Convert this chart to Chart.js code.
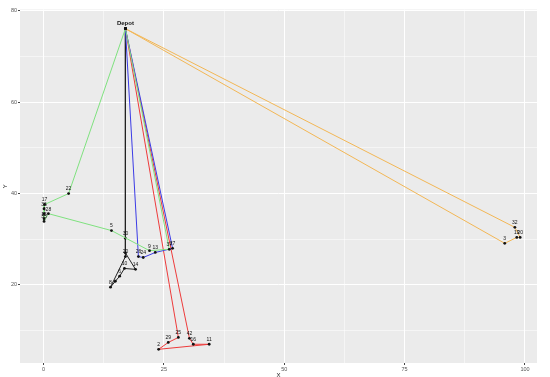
<!DOCTYPE html>
<html>
<head>
<meta charset="utf-8">
<script src="https://cdn.jsdelivr.net/npm/chart.js@4"></script>
<style>
html,body{margin:0;padding:0;background:#fff}
#wrap{width:550px;height:377px}
</style>
</head>
<body>
<div id="wrap"><canvas id="routeChart" width="550" height="377"></canvas></div>
<script>
// depot
let depotX = [17]
let depotY = [76.1]

// routes (each starts and ends at the depot)
let greenX = [17, 5.2, 0.2, 0.1, 0.1, 0.1, 0.1, 1.0, 14.1, 22.0, 26.1, 17]
let greenY = [76.1, 40.0, 37.6, 36.7, 35.6, 34.5, 33.9, 35.6, 31.9, 27.5, 27.8, 76.1]
let greenLabels = ["", "22", "17", "36", "4", "15", "35", "28", "5", "9", "37", ""]

let blueX = [17, 19.7, 20.7, 23.2, 26.8, 17]
let blueY = [76.1, 26.2, 26.0, 27.1, 28.0, 76.1]
let blueLabels = ["", "26", "24", "13", "27", ""]

let blackX = [17, 17.0, 17.0, 19.1, 16.8, 15.8, 14.9, 13.9, 17.0, 17]
let blackY = [76.1, 30.2, 27.0, 23.4, 23.6, 21.9, 20.8, 19.5, 26.2, 76.1]
let blackLabels = ["", "30", "", "14", "10", "6", "", "8", "20", ""]

let redX = [17, 30.3, 31.1, 34.4, 23.9, 25.9, 28.0, 17]
let redY = [76.1, 8.3, 7.0, 7.0, 5.9, 7.4, 8.5, 76.1]
let redLabels = ["", "42", "16", "11", "2", "29", "25", ""]

let orangeX = [17, 97.9, 99.0, 98.3, 95.8, 17]
let orangeY = [76.1, 32.6, 30.4, 30.4, 29.1, 76.1]
let orangeLabels = ["", "32", "20", "19", "3", ""]

// axes
let xTicks = [0, 25, 50, 75, 100]
let xMinorTicks = [12.5, 37.5, 62.5, 87.5]
let yTicks = [20, 40, 60, 80]
let yMinorTicks = [10, 30, 50, 70]


function toPoints(xs, ys){
return xs.map((x,i)=>({x:x, y:ys[i]}))
}

function route(xs, ys, labels, color){
return {
data: toPoints(xs, ys),
labels: labels,
showLine: true,
borderColor: color,
borderWidth: 1,
pointRadius: 1.4,
pointBackgroundColor: "#111",
pointBorderColor: "#111",
pointBorderWidth: 0
}
}

function withMinor(scale, major, minor){
let all = major.concat(minor).sort((a,b)=>a-b)
scale.ticks = all.map(v=>({value:v}))
}

const panelBg = {
id: "panelBg",
beforeDraw(chart){
let a = chart.chartArea
let ctx = chart.ctx
ctx.save()
ctx.fillStyle = "#EBEBEB"
ctx.fillRect(a.left, a.top, a.right-a.left, a.bottom-a.top)
ctx.restore()
}
}

const pointLabels = {
id: "pointLabels",
afterDatasetsDraw(chart){
let ctx = chart.ctx
ctx.save()
ctx.textAlign = "center"
ctx.textBaseline = "bottom"
ctx.fillStyle = "#111"
ctx.font = "5px 'Liberation Sans', Arial, sans-serif"
chart.data.datasets.forEach((ds,i)=>{
let meta = chart.getDatasetMeta(i)
meta.data.forEach((pt,j)=>{
let t = ds.labels[j]
if(t) ctx.fillText(t, pt.x, pt.y - 2)
})
})
let sx = chart.scales.x, sy = chart.scales.y
ctx.font = "bold 6px 'Liberation Sans', Arial, sans-serif"
ctx.fillText("Depot", sx.getPixelForValue(depotX[0]), sy.getPixelForValue(depotY[0]) - 2)
ctx.restore()
}
}

function isMajor(v, major){
return major.indexOf(v) >= 0
}

new Chart(document.getElementById("routeChart"), {
type: "scatter",
data: {
datasets: [
route(greenX, greenY, greenLabels, "#7FE27F"),
route(blueX, blueY, blueLabels, "#3B3BE6"),
route(blackX, blackY, blackLabels, "#222222"),
route(redX, redY, redLabels, "#EE3B3B"),
route(orangeX, orangeY, orangeLabels, "#F3B755")
]
},
options: {
responsive: false,
animation: false,
layout: {padding: {top: 9.5, right: 13, left: 0, bottom: 0}},
plugins: {legend: {display: false}, tooltip: {enabled: false}},
scales: {
x: {
type: "linear",
min: -4.9,
max: 102.5,
afterBuildTicks: s=>withMinor(s, xTicks, xMinorTicks),
afterFit: s=>{ s.height = 14 },
border: {display: false},
grid: {
color: "#FFFFFF",
lineWidth: c=>isMajor(c.tick.value, xTicks) ? 1 : 0.5,
tickColor: c=>isMajor(c.tick.value, xTicks) ? "#444" : "rgba(0,0,0,0)",
tickLength: 2
},
ticks: {
autoSkip: false,
maxRotation: 0,
padding: 1,
color: "#555",
font: {size: 5.5, family: "'Liberation Sans', Arial, sans-serif"},
callback: v=>isMajor(v, xTicks) ? String(v) : ""
},
title: {display: true, text: "X", color: "#222", padding: {top: 0, bottom: -2},
font: {size: 6, family: "'Liberation Sans', Arial, sans-serif"}}
},
y: {
type: "linear",
min: 2.9,
max: 80.3,
afterBuildTicks: s=>withMinor(s, yTicks, yMinorTicks),
afterFit: s=>{ s.width = 20 },
border: {display: false},
grid: {
color: "#FFFFFF",
lineWidth: c=>isMajor(c.tick.value, yTicks) ? 1 : 0.5,
tickColor: c=>isMajor(c.tick.value, yTicks) ? "#444" : "rgba(0,0,0,0)",
tickLength: 2
},
ticks: {
autoSkip: false,
padding: 1,
color: "#555",
font: {size: 5.5, family: "'Liberation Sans', Arial, sans-serif"},
callback: v=>isMajor(v, yTicks) ? String(v) : ""
},
title: {display: true, text: "Y", color: "#222", padding: {top: 2, bottom: 0},
font: {size: 6, family: "'Liberation Sans', Arial, sans-serif"}}
}
}
},
plugins: [panelBg, pointLabels]
})
</script>
</body>
</html>
